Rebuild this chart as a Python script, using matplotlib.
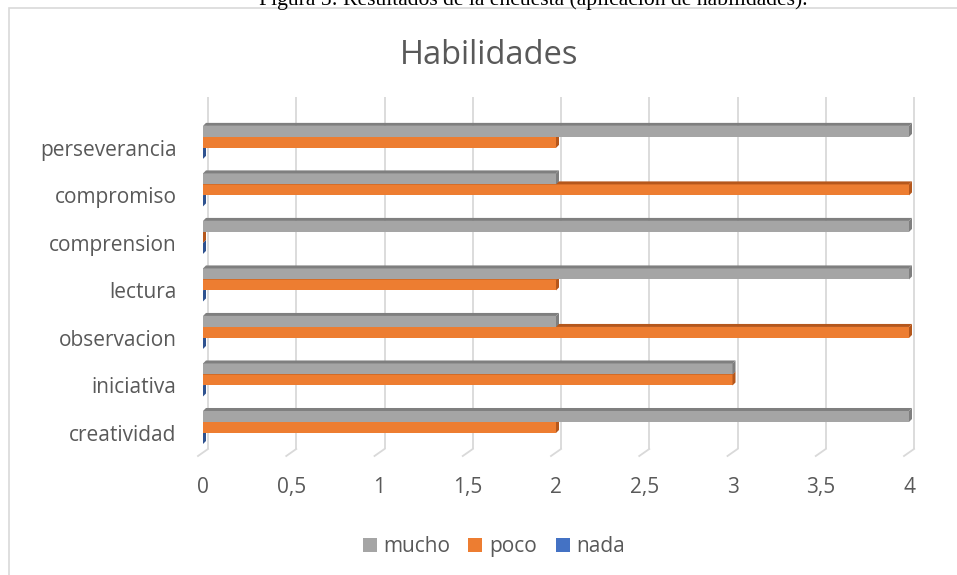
import matplotlib
matplotlib.use("Agg")
import matplotlib.pyplot as plt
from matplotlib.patches import Polygon, Rectangle
import numpy as np

categories = ["creatividad", "iniciativa", "observacion", "lectura", "comprension", "compromiso", "perseverancia"]
mucho = [4, 3, 2, 4, 4, 2, 4]
poco = [2, 3, 4, 2, 0, 4, 2]
nada = [0, 0, 0, 0, 0, 0, 0]
series_names = ["mucho", "poco", "nada"]
xtick_values = [0, 0.5, 1, 1.5, 2, 2.5, 3, 3.5, 4]
xtick_labels = ["0", "0,5", "1", "1,5", "2", "2,5", "3", "3,5", "4"]
title = "Habilidades"
caption = "Figura 5: Resultados de la encuesta (aplicación de habilidades)."

colors = {"mucho": "#A5A5A5", "poco": "#ED7D31", "nada": "#4472C4"}
dark = {"mucho": "#7F7F7F", "poco": "#B5571C", "nada": "#2F528F"}

W, H = 957, 575
fig = plt.figure(figsize=(W / 100, H / 100), dpi=100)
FONT = "Open Sans"
TXT = "#595959"
FS = 15

# axes geometry in pixels
ax_l, ax_r, ax_t, ax_b = 203, 909, 97, 456
ax = fig.add_axes([ax_l / W, 1 - ax_b / H, (ax_r - ax_l) / W, (ax_b - ax_t) / H])
xlim = (0, 4)
ylim = (-0.485, 7.07)
ax.set_xlim(*xlim)
ax.set_ylim(*ylim)
for s in ax.spines.values():
    s.set_visible(False)

pxx = (xlim[1] - xlim[0]) / (ax_r - ax_l)   # data units per pixel in x
pxy = (ylim[1] - ylim[0]) / (ax_b - ax_t)   # data units per pixel in y

# gridlines (back wall) with floor foot
grid_c = "#D9D9D9"
foot_dx, foot_dy = 5, 7
for v in xtick_values:
    ax.plot([v + foot_dx * pxx] * 2, [ylim[0] + foot_dy * pxy, ylim[1]], color=grid_c, lw=1.3,
            zorder=0, clip_on=False, solid_capstyle="butt")
    ax.plot([v - foot_dx * pxx, v + foot_dx * pxx], [ylim[0], ylim[0] + foot_dy * pxy], color=grid_c,
            lw=1.3, zorder=0, clip_on=False)

y = np.arange(len(categories))
h = 11 * pxy
offsets = {"nada": 0.115 - h, "poco": 0.115, "mucho": 0.115 + h}
data = {"mucho": mucho, "poco": poco, "nada": nada}
ddx, ddy = 3 * pxx, 3 * pxy

z = 2
for name in ["nada", "poco", "mucho"]:
    vals = data[name]
    yc = y + offsets[name]
    ax.barh(yc, vals, height=h, color=colors[name], zorder=z, clip_on=False, linewidth=0, label=name)
    for v, c in zip(vals, yc):
        y0, y1 = c - h / 2, c + h / 2
        # top face
        ax.add_patch(Polygon([(0, y1), (v, y1), (v + ddx, y1 + ddy), (0 + ddx, y1 + ddy)],
                             closed=True, facecolor=dark[name], edgecolor="none", zorder=z, clip_on=False))
        # right face
        ax.add_patch(Polygon([(v, y0), (v, y1), (v + ddx, y1 + ddy), (v + ddx, y0 + ddy)],
                             closed=True, facecolor=dark[name], edgecolor="none", zorder=z, clip_on=False))
    z += 1

ax.set_yticks(y)
ax.set_yticklabels(categories, fontfamily=FONT, fontsize=FS, color=TXT)
ax.set_xticks(xtick_values)
ax.set_xticklabels(xtick_labels, fontfamily=FONT, fontsize=FS, color=TXT)
ax.tick_params(axis="both", length=0)
ax.tick_params(axis="y", pad=19)
ax.tick_params(axis="x", pad=15)

# border of chart area
fig.patches.append(Rectangle((9 / W, -0.1), 1.2, 1 - 8 / H + 0.1, transform=fig.transFigure,
                             facecolor="none", edgecolor="#D9D9D9", lw=1.2, zorder=-1))

fig.text(489.5 / W, 1 - 56 / H, title, ha="center", va="center", fontfamily=FONT, fontsize=23.5, color=TXT)
fig.text(533 / W, 1 - 5 / H, caption, ha="center", va="baseline", fontfamily="Liberation Serif",
         fontsize=15.6, color="black")

# legend (entries share one baseline, as in the reference)
leg_sq_x = [363, 468, 556]
leg_txt_x = [383, 489, 576]
leg_base, leg_sq = 552, 14
for name, sx, tx in zip(series_names, leg_sq_x, leg_txt_x):
    fig.patches.append(Rectangle((sx / W, 1 - leg_base / H), leg_sq / W, leg_sq / H,
                                 transform=fig.transFigure, facecolor=colors[name], edgecolor="none"))
    fig.text(tx / W, 1 - leg_base / H, name, ha="left", va="baseline", fontfamily=FONT, fontsize=FS,
             color=TXT)

fig.savefig("out.png", dpi=100)
